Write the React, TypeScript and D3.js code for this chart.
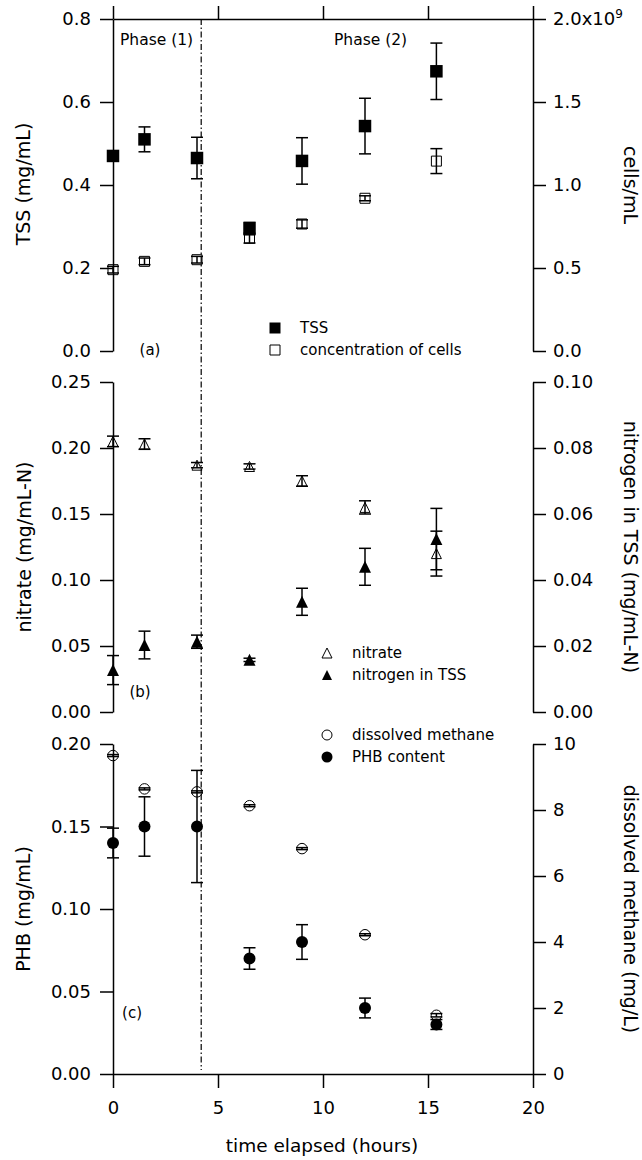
import React, { useRef, useEffect } from 'react';
import * as d3 from 'd3';

// sampling times (hours)
const hours = [0, 1.5, 4, 6.5, 9, 12, 15.4];
const phaseBoundary = 4.2;

// panel (a)
const tss = [0.47, 0.51, 0.465, 0.295, 0.458, 0.542, 0.674];
const tssErr = [0, 0.03, 0.05, 0.015, 0.056, 0.067, 0.068];
const cells = [0.49e9, 0.54e9, 0.55e9, 0.68e9, 0.765e9, 0.92e9, 1.144e9];
const cellsErr = [0.02e9, 0.02e9, 0.02e9, 0.03e9, 0.025e9, 0.015e9, 0.075e9];

// panel (b)
const nitrate = [0.205, 0.203, 0.187, 0.186, 0.175, 0.155, 0.12];
const nitrateErr = [0.004, 0.004, 0.002, 0.002, 0.004, 0.005, 0.017];
const nitrogenTss = [0.0127, 0.0203, 0.0213, 0.0158, 0.0334, 0.044, 0.0524];
const nitrogenTssErr = [0.0044, 0.0042, 0.002, 0.0005, 0.0041, 0.0056, 0.0093];

// panel (c)
const phb = [0.14, 0.15, 0.15, 0.07, 0.08, 0.04, 0.03];
const phbErr = [0.009, 0.018, 0.034, 0.0065, 0.0105, 0.006, 0.003];
const methane = [9.65, 8.64, 8.55, 8.13, 6.83, 4.22, 1.78];
const methaneErr = [0.03, 0.03, 0.03, 0.03, 0.03, 0.03, 0.05];

// tick values
const timeTicks = [0, 5, 10, 15, 20];
const tssTicks = [0, 0.2, 0.4, 0.6, 0.8];
const cellsTicks = [0, 0.5e9, 1e9, 1.5e9, 2e9];
const nitrateTicks = [0, 0.05, 0.1, 0.15, 0.2, 0.25];
const nitrogenTicks = [0, 0.02, 0.04, 0.06, 0.08, 0.1];
const phbTicks = [0, 0.05, 0.1, 0.15, 0.2];
const methaneTicks = [0, 2, 4, 6, 8, 10];

const FONT = 'DejaVu Sans';

const App = () => {
  const svgRef = useRef<SVGSVGElement>(null);

  useEffect(() => {
    const svg = d3.select(svgRef.current);
    svg.selectAll('*').remove();

    const x = d3.scaleLinear().domain([0, 20]).range([113, 533]);
    const yTss = d3.scaleLinear().domain([0, 0.8]).range([351, 19]);
    const yCells = d3.scaleLinear().domain([0, 2e9]).range([351, 19]);
    const yNit = d3.scaleLinear().domain([0, 0.25]).range([712, 382]);
    const yNtss = d3.scaleLinear().domain([0, 0.1]).range([712, 382]);
    const yPhb = d3.scaleLinear().domain([0, 0.2]).range([1074, 744]);
    const yMeth = d3.scaleLinear().domain([0, 10]).range([1074, 744]);

    // phase divider
    svg
      .append('line')
      .attr('x1', x(phaseBoundary))
      .attr('x2', x(phaseBoundary))
      .attr('y1', 19)
      .attr('y2', 1070)
      .attr('stroke', '#000')
      .attr('stroke-width', 1.2)
      .attr('stroke-dasharray', '6,2.5,1.5,2.5');

    const styleAxis = (g: any) => {
      g.attr('font-family', FONT).attr('font-size', 18);
      g.selectAll('path, line').attr('stroke', '#000').attr('stroke-width', 1.5);
      g.selectAll('text').attr('fill', '#000');
    };
    const addAxis = (axis: any, tx: number, ty: number) =>
      svg
        .append('g')
        .attr('transform', `translate(${tx},${ty})`)
        .call(axis)
        .call(styleAxis);

    const f1 = d3.format('.1f');
    const f2 = d3.format('.2f');
    const fd = d3.format('d');

    // x axes
    addAxis(
      d3.axisTop(x).tickValues(timeTicks).tickSize(13).tickSizeOuter(0).tickFormat(() => ''),
      0,
      19
    );
    addAxis(
      d3.axisBottom(x).tickValues(timeTicks).tickSize(14).tickPadding(13).tickSizeOuter(0).tickFormat(fd),
      0,
      1074
    );

    // left axes
    addAxis(d3.axisLeft(yTss).tickValues(tssTicks).tickSize(13).tickPadding(9).tickSizeOuter(0).tickFormat(f1), 113, 0);
    addAxis(d3.axisLeft(yNit).tickValues(nitrateTicks).tickSize(13).tickPadding(9).tickSizeOuter(0).tickFormat(f2), 113, 0);
    addAxis(d3.axisLeft(yPhb).tickValues(phbTicks).tickSize(13).tickPadding(9).tickSizeOuter(0).tickFormat(f2), 113, 0);

    // right axes
    const cellsAxis = addAxis(
      d3
        .axisRight(yCells)
        .tickValues(cellsTicks)
        .tickSize(13)
        .tickPadding(7)
        .tickSizeOuter(0)
        .tickFormat((d: any) => (d === 2e9 ? '2.0x10' : (d / 1e9).toFixed(1))),
      533,
      0
    );
    cellsAxis
      .selectAll('.tick text')
      .filter((d: any) => d === 2e9)
      .append('tspan')
      .attr('dy', '-0.6em')
      .attr('font-size', 12)
      .text('9');
    addAxis(d3.axisRight(yNtss).tickValues(nitrogenTicks).tickSize(13).tickPadding(7).tickSizeOuter(0).tickFormat(f2), 533, 0);
    addAxis(d3.axisRight(yMeth).tickValues(methaneTicks).tickSize(13).tickPadding(7).tickSizeOuter(0).tickFormat(fd), 533, 0);

    // error bars
    const errorBars = (vals: number[], errs: number[], yScale: any) => {
      const rows = hours.map((h, i) => ({ h, v: vals[i], e: errs[i] })).filter(r => r.e > 0);
      const g = svg.append('g').attr('stroke', '#000').attr('stroke-width', 1.5);
      g.selectAll('.stem')
        .data(rows)
        .join('line')
        .attr('x1', d => x(d.h))
        .attr('x2', d => x(d.h))
        .attr('y1', d => yScale(d.v + d.e))
        .attr('y2', d => yScale(d.v - d.e));
      [1, -1].forEach(s => {
        g.selectAll(`.cap${s}`)
          .data(rows)
          .join('line')
          .attr('x1', d => x(d.h) - 6)
          .attr('x2', d => x(d.h) + 6)
          .attr('y1', d => yScale(d.v + s * d.e))
          .attr('y2', d => yScale(d.v + s * d.e));
      });
    };

    const markerPath = (kind: string, cx: number, cy: number, s: number) => {
      const h = s / 2;
      if (kind === 'square') return `M${cx - h},${cy - h}h${s}v${s}h${-s}Z`;
      if (kind === 'triangle') return `M${cx},${cy - h}L${cx + h},${cy + h}L${cx - h},${cy + h}Z`;
      return `M${cx - h},${cy}a${h},${h} 0 1,0 ${s},0a${h},${h} 0 1,0 ${-s},0Z`;
    };

    const markers = (vals: number[], yScale: any, kind: string, filled: boolean, size: number) => {
      svg
        .append('g')
        .selectAll('path')
        .data(vals)
        .join('path')
        .attr('d', (v, i) => markerPath(kind, x(hours[i]), yScale(v), size))
        .attr('fill', filled ? '#000' : 'none')
        .attr('stroke', '#000')
        .attr('stroke-width', filled ? 0 : 1);
    };

    errorBars(cells, cellsErr, yCells);
    markers(cells, yCells, 'square', false, 10);
    errorBars(tss, tssErr, yTss);
    markers(tss, yTss, 'square', true, 12.5);

    errorBars(nitrate, nitrateErr, yNit);
    markers(nitrate, yNit, 'triangle', false, 10);
    errorBars(nitrogenTss, nitrogenTssErr, yNtss);
    markers(nitrogenTss, yNtss, 'triangle', true, 12);

    errorBars(methane, methaneErr, yMeth);
    markers(methane, yMeth, 'circle', false, 10.5);
    errorBars(phb, phbErr, yPhb);
    markers(phb, yPhb, 'circle', true, 12);

    // legends
    const legend = (mx: number, y: number, kind: string, filled: boolean, size: number, label: string) => {
      svg
        .append('path')
        .attr('d', markerPath(kind, mx, y, size))
        .attr('fill', filled ? '#000' : 'none')
        .attr('stroke', '#000')
        .attr('stroke-width', filled ? 0 : 1);
      svg
        .append('text')
        .attr('x', mx + 25)
        .attr('y', y)
        .attr('dominant-baseline', 'central')
        .attr('font-family', FONT)
        .attr('font-size', 15)
        .text(label);
    };
    legend(275, 328, 'square', true, 11, 'TSS');
    legend(275, 350, 'square', false, 10, 'concentration of cells');
    legend(327, 653, 'triangle', false, 10, 'nitrate');
    legend(327, 675, 'triangle', true, 10, 'nitrogen in TSS');
    legend(327, 735, 'circle', false, 10, 'dissolved methane');
    legend(327, 757, 'circle', true, 11, 'PHB content');

    const label = (tx: number, ty: number, text: string, size: number, rot = 0, anchor = 'middle') =>
      svg
        .append('text')
        .attr('transform', `translate(${tx},${ty}) rotate(${rot})`)
        .attr('text-anchor', anchor)
        .attr('dominant-baseline', 'central')
        .attr('font-family', FONT)
        .attr('font-size', size)
        .text(text);

    label(120, 40, 'Phase (1)', 15.5, 0, 'start');
    label(334, 40, 'Phase (2)', 15.5, 0, 'start');
    label(150, 350, '(a)', 15);
    label(140, 692, '(b)', 15);
    label(132, 1013, '(c)', 15);

    label(23, 184, 'TSS (mg/mL)', 19, -90);
    label(24, 547, 'nitrate (mg/mL-N)', 19, -90);
    label(23, 909, 'PHB (mg/mL)', 19, -90);
    label(631, 185, 'cells/mL', 19, 90);
    label(631, 547, 'nitrogen in TSS (mg/mL-N)', 19, 90);
    label(631, 909, 'dissolved methane (mg/L)', 19, 90);
    label(322, 1145, 'time elapsed (hours)', 18.5);
  }, []);

  return (
    <div style={{ position: 'absolute', left: 0, top: 0, background: '#fff' }}>
      <svg ref={svgRef} width={642} height={1160} />
    </div>
  );
};

export default App;
